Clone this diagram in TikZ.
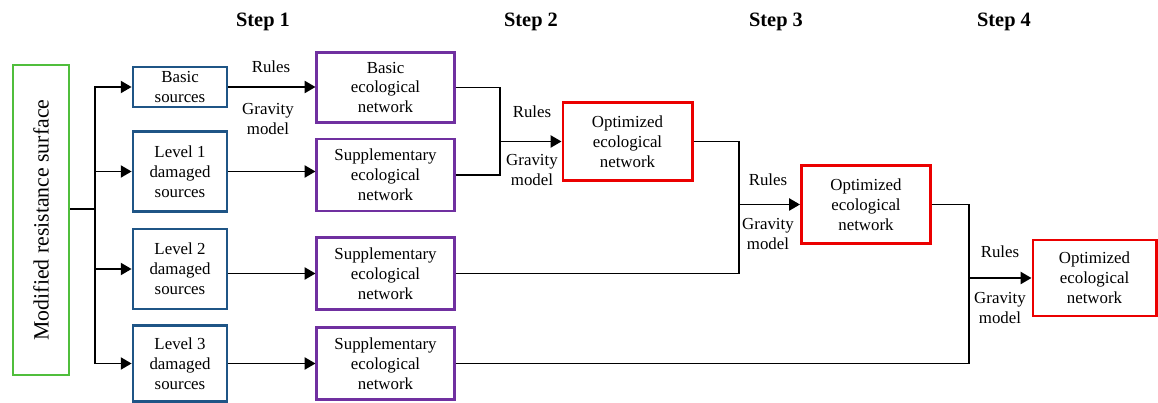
\documentclass[tikz,border=0pt]{standalone}
\usepackage{fontspec}
\setmainfont{Liberation Serif}
\usetikzlibrary{arrows.meta}

\definecolor{srcblue}{RGB}{31,85,134}
\definecolor{ecopurple}{RGB}{112,48,160}
\definecolor{optred}{RGB}{235,0,0}
\definecolor{surfgreen}{RGB}{80,190,60}

\newcommand{\boxfont}{\fontsize{12}{14.2}\selectfont}

\tikzstyle{surf} = [minimum height=1.4cm, minimum width=7.75cm, rectangle, rotate=90, style={draw=surfgreen,line width=2pt}, font=\fontsize{15.5}{18}\selectfont]
\tikzstyle{srccell} = [minimum width=2.35cm, rectangle, align=center, inner sep=1pt, style={draw=srcblue,line width=2pt}, font=\boxfont]
\tikzstyle{ecocell} = [minimum width=3.43cm, rectangle, align=center, inner sep=1pt, style={draw=ecopurple,line width=2pt}, font=\boxfont]
\tikzstyle{optcell} = [minimum width=3.23cm, minimum height=1.93cm, rectangle, align=center, inner sep=1pt, style={draw=optred,line width=2pt}, font=\boxfont]
\tikzstyle{lbl} = [align=center, inner sep=0pt, font=\boxfont]
\tikzstyle{steplbl} = [inner sep=0pt, font=\fontsize{14.5}{17}\selectfont\bfseries]
\tikzstyle{fil} = [-{Triangle[length=0.27cm,width=0.3cm]},style={line width=1.4pt}]
\tikzstyle{lin} = [style={line width=1.4pt}]

\begin{document}
\begin{tikzpicture}[auto]
\useasboundingbox (0cm,0cm) rectangle (28.95cm,10.075cm);

% Step titles
	\node[steplbl] at (6.575cm,9.525cm) (step1) {Step 1};
	\node[steplbl] at (13.275cm,9.525cm) (step2) {Step 2};
	\node[steplbl] at (19.4cm,9.525cm) (step3) {Step 3};
	\node[steplbl] at (25.1cm,9.525cm) (step4) {Step 4};

% Resistance surface
	\node[surf] at (1.025cm,4.575cm) (surf) {Modified resistance surface};

% Source cells
	\node[srccell, minimum height=1.0cm] at (4.5cm,7.9cm) (src0) {Basic\\sources};
	\node[srccell, minimum height=1.98cm] at (4.5cm,5.7875cm) (src1) {Level 1\\damaged\\sources};
	\node[srccell, minimum height=2.0cm] at (4.5cm,3.35cm) (src2) {Level 2\\damaged\\sources};
	\node[srccell, minimum height=1.9cm] at (4.5cm,0.9875cm) (src3) {Level 3\\damaged\\sources};

% Network cells
	\node[ecocell, minimum height=1.75cm] at (9.6375cm,7.8875cm) (eco0) {Basic\\ecological\\network};
	\node[ecocell, minimum height=1.8cm] at (9.6375cm,5.7cm) (eco1) {Supplementary\\ecological\\network};
	\node[ecocell, minimum height=1.78cm] at (9.6375cm,3.2375cm) (eco2) {Supplementary\\ecological\\network};
	\node[ecocell, minimum height=1.78cm] at (9.6375cm,0.9875cm) (eco3) {Supplementary\\ecological\\network};

% Optimized cells
	\node[optcell] at (15.6875cm,6.5375cm) (opt1) {Optimized\\ecological\\network};
	\node[optcell] at (21.65cm,4.9625cm) (opt2) {Optimized\\ecological\\network};
	\node[optcell, minimum width=3.08cm, minimum height=1.9cm] at (27.3625cm,3.125cm) (opt3) {Optimized\\ecological\\network};

% Surface to sources
	\coordinate (split) at (2.375cm,4.85cm);
	\draw[lin] (split -| surf.south) -- (split);
	\draw[fil] (split) |- (src0.west);
	\draw[fil] (split) |- (src1.west);
	\draw[fil] (split) |- (src2.west);
	\draw[fil] (split) |- (src3.west);

% Sources to networks
	\draw[fil] (src0.east) -- (src0.east -| eco0.west);
	\draw[fil] (src1.east) -- (src1.east -| eco1.west);
	\draw[fil] (eco2.west -| src2.east) -- (eco2.west);
	\draw[fil] (src3.east) -- (src3.east -| eco3.west);

% Merging steps
	\coordinate (merge1) at (12.5cm,6.5375cm);
	\coordinate (merge2) at (18.475cm,4.9625cm);
	\coordinate (merge3) at (24.225cm,3.125cm);
	\draw[fil] (eco0.east) -| (merge1) -- (opt1.west);
	\draw[lin] (eco1.east) -| (merge1);
	\draw[fil] (opt1.east) -| (merge2) -- (opt2.west);
	\draw[lin] (eco2.east) -| (merge2);
	\draw[fil] (opt2.east) -| (merge3) -- (opt3.west);
	\draw[lin] (eco3.east) -| (merge3);

% Rules and gravity model
	\node[lbl] at (6.775cm,8.4cm) (rules1) {Rules};
	\node[lbl] at (6.7cm,7.1cm) (grav1) {Gravity\\model};
	\node[lbl] at (13.3cm,7.275cm) (rules2) {Rules};
	\node[lbl] at (13.3cm,5.825cm) (grav2) {Gravity\\model};
	\node[lbl] at (19.2cm,5.575cm) (rules3) {Rules};
	\node[lbl] at (19.2cm,4.225cm) (grav3) {Gravity\\model};
	\node[lbl] at (25.0cm,3.775cm) (rules4) {Rules};
	\node[lbl] at (25.0cm,2.375cm) (grav4) {Gravity\\model};

\end{tikzpicture}
\end{document}
